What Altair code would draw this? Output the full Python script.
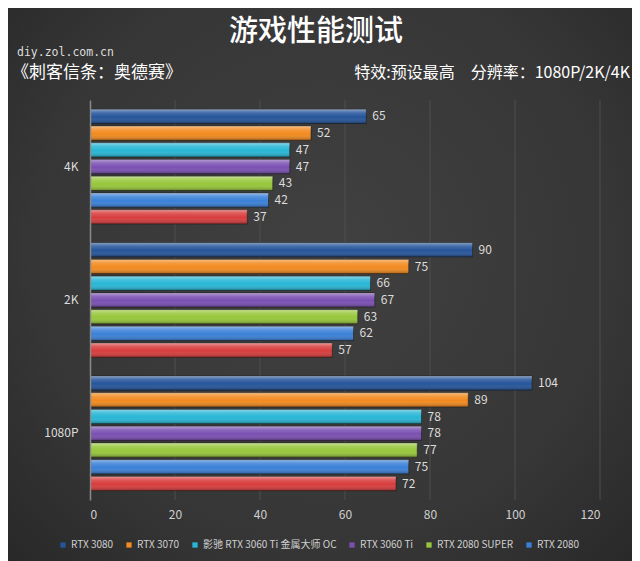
import altair as alt
import pandas as pd

groups = ["4K", "2K", "1080P"]
series = ["RTX 3080", "RTX 3070", "影驰 RTX 3060 Ti 金属大师 OC", "RTX 3060 Ti",
          "RTX 2080 SUPER", "RTX 2080", "RTX 2070 SUPER"]
legend_shown = series[:6]
colors = ["#24549a", "#f28a1e", "#27b6d6", "#7a4fb2", "#97c73a", "#3a80d8", "#d83c3c"]
x_ticks = [0, 20, 40, 60, 80, 100, 120]

v_3080 = [65, 90, 104]
v_3070 = [52, 75, 89]
v_galax = [47, 66, 78]
v_3060ti = [47, 67, 78]
v_2080s = [43, 63, 77]
v_2080 = [42, 62, 75]
v_red = [37, 57, 72]

all_vals = [v_3080, v_3070, v_galax, v_3060ti, v_2080s, v_2080, v_red]
rows = []
for s, vals in zip(series, all_vals):
    for g, v in zip(groups, vals):
        rows.append({"group": g, "series": s, "value": v})
df = pd.DataFrame(rows)
grid_df = pd.DataFrame({"value": x_ticks[1:]})

FONT = "Noto Sans CJK SC"

# decorative background with a soft radial gradient
bg_df = pd.DataFrame({"k": [0]})
bg = alt.Chart(bg_df).mark_rect(
    fill=alt.Gradient(
        gradient="radial", x1=0.5, y1=0.45, r1=0, x2=0.5, y2=0.45, r2=0.75,
        stops=[
            alt.GradientStop(offset=0, color="#414141"),
            alt.GradientStop(offset=0.6, color="#363636"),
            alt.GradientStop(offset=1, color="#242424"),
        ],
    )
).encode(x=alt.value(-90), x2=alt.value(560), y=alt.value(-100), y2=alt.value(470))

xscale = alt.Scale(domain=[0, 120], nice=False)
xaxis = alt.Axis(values=x_ticks, labelColor="#d0d0d0", labelFontSize=12, labelFont=FONT,
                 ticks=False, domain=False, grid=False, labelPadding=9, zindex=1)
xenc = alt.X("value:Q", title=None, scale=xscale, axis=xaxis)

grid = alt.Chart(grid_df).mark_rule(color="#4f4f4f", strokeWidth=1).encode(x=xenc)

base = alt.Chart(df).encode(
    y=alt.Y("group:N", sort=groups, title=None,
            scale=alt.Scale(paddingInner=0.14, paddingOuter=0.07),
            axis=alt.Axis(labelColor="#dddddd", labelFontSize=12, labelFont=FONT,
                          ticks=False, domainColor="#8a8a8a", labelPadding=12,
                          domainWidth=1.5, zindex=1)),
    yOffset=alt.YOffset("series:N", sort=series, scale=alt.Scale(paddingInner=0.15)),
    x=xenc,
)

bars = base.mark_bar(stroke="#1c1c1c", strokeWidth=0.6).encode(
    color=alt.Color("series:N", sort=series,
                    scale=alt.Scale(domain=series, range=colors),
                    legend=alt.Legend(title=None, orient="none", legendX=-32, legendY=440,
                                      direction="horizontal", values=legend_shown,
                                      symbolType="square", symbolSize=28,
                                      symbolStrokeWidth=0, labelColor="#cfcfcf",
                                      labelFontSize=10, labelFont=FONT,
                                      columnPadding=10, labelOffset=3, zindex=1)),
)

gloss = base.mark_bar(
    fill=alt.Gradient(
        gradient="linear", x1=0, x2=0, y1=0, y2=1,
        stops=[
            alt.GradientStop(offset=0, color="rgba(255,255,255,0.45)"),
            alt.GradientStop(offset=0.25, color="rgba(255,255,255,0.15)"),
            alt.GradientStop(offset=0.55, color="rgba(255,255,255,0)"),
            alt.GradientStop(offset=1, color="rgba(0,0,0,0.3)"),
        ],
    )
)

labels = base.mark_text(align="left", baseline="middle", dx=6, color="#dddddd",
                        fontSize=12, font=FONT).encode(text="value:Q")

title_df = pd.DataFrame({"t": ["游戏性能测试"]})
title = alt.Chart(title_df).mark_text(align="center", baseline="middle", fontSize=29,
                                      font=FONT, color="#ffffff", fontWeight=500).encode(
    text="t:N", x=alt.value(226), y=alt.value(-68))

site_df = pd.DataFrame({"t": ["diy.zol.com.cn"]})
site = alt.Chart(site_df).mark_text(align="left", baseline="middle", fontSize=11.5,
                                    font="DejaVu Sans Mono", color="#dddddd").encode(
    text="t:N", x=alt.value(-73), y=alt.value(-47))

game_df = pd.DataFrame({"t": ["《刺客信条：奥德赛》"]})
game = alt.Chart(game_df).mark_text(align="left", baseline="middle", fontSize=17,
                                    font=FONT, color="#ffffff").encode(
    text="t:N", x=alt.value(-78), y=alt.value(-27))

spec_df = pd.DataFrame({"t": ["特效:预设最高\u3000分辨率：1080P/2K/4K"]})
spec = alt.Chart(spec_df).mark_text(align="right", baseline="middle", fontSize=16,
                                    font=FONT, color="#ffffff").encode(
    text="t:N", x=alt.value(540), y=alt.value(-27))

chart = alt.layer(bg, grid, bars, gloss, labels, title, site, game, spec).properties(
    width=510, height=400,
    autosize=alt.AutoSizeParams(type="none"),
    padding={"left": 82, "top": 92, "right": 32, "bottom": 61},
    background="#2c2c2c",
).configure_view(stroke=None).configure_axis(labelFont=FONT)

chart.save("out.html", embed_options={"renderer": "svg", "actions": False})
